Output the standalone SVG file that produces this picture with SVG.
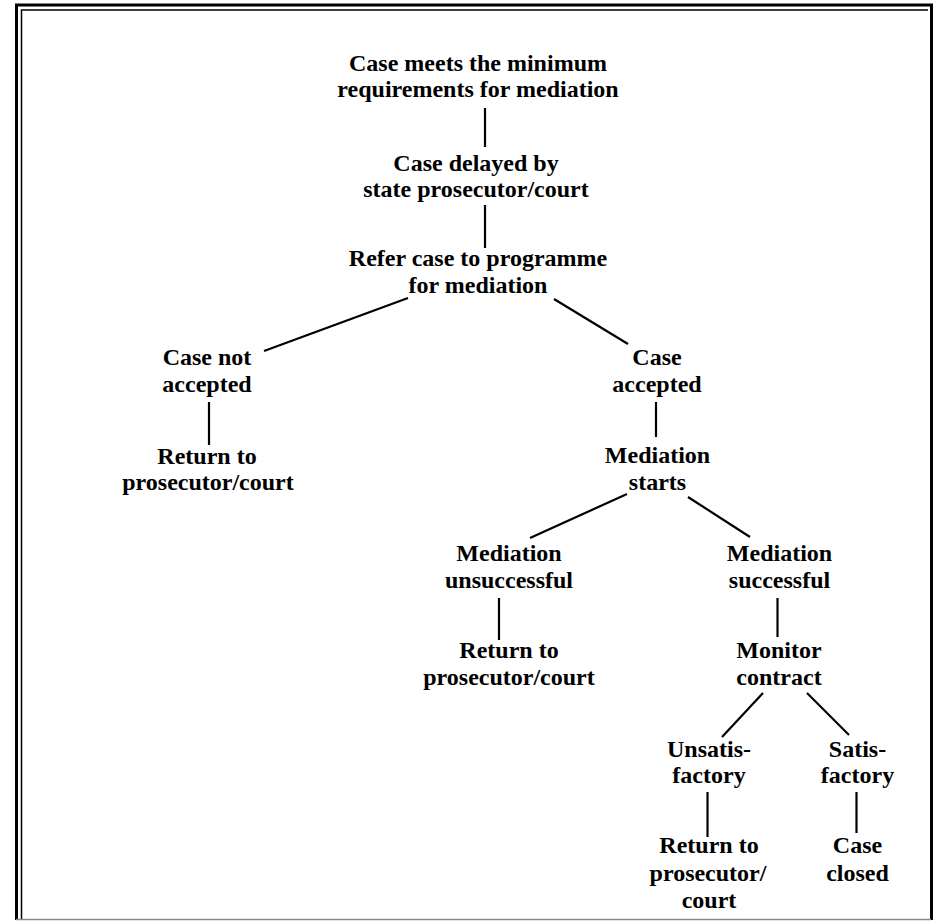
<svg xmlns="http://www.w3.org/2000/svg" width="934" height="921" viewBox="0 0 934 921">
  <style>
    text { font-family: "Liberation Serif", "Times New Roman", serif; font-weight: bold; font-size: 24px; fill: #000; text-anchor: middle; }
    .conn line { stroke: #000; stroke-width: 2.2; stroke-linecap: butt; }
    .frame { fill: none; stroke: #000; }
  </style>
  <rect width="934" height="921" fill="#fff"/>
  <g id="frame">
    <path class="frame" d="M16.5,920 V5 H931.5 V920" stroke-width="3"/>
    <path class="frame" d="M21.5,920 V10 H928" stroke-width="1.5"/>
    <line x1="16" y1="919.5" x2="931" y2="919.5" stroke="#888" stroke-width="1.5"/>
  </g>
  <g id="connectors" class="conn">
    <line x1="485" y1="108" x2="485" y2="147"/>
    <line x1="485" y1="205" x2="485" y2="248"/>
    <line x1="408" y1="298" x2="264" y2="351"/>
    <line x1="554" y1="299" x2="628" y2="344"/>
    <line x1="209" y1="402" x2="209" y2="445"/>
    <line x1="656" y1="402" x2="656" y2="437"/>
    <line x1="627" y1="494" x2="530" y2="538"/>
    <line x1="688" y1="497" x2="750" y2="537"/>
    <line x1="499" y1="598" x2="499" y2="640"/>
    <line x1="777.5" y1="598" x2="777.5" y2="637"/>
    <line x1="763" y1="693" x2="722" y2="737"/>
    <line x1="807" y1="693" x2="849" y2="735"/>
    <line x1="707.5" y1="792" x2="707.5" y2="837"/>
    <line x1="856.5" y1="792" x2="856.5" y2="833"/>
  </g>
  <g id="n-minimum"><text x="478" y="71">Case meets the minimum</text><text x="478" y="97">requirements for mediation</text></g>
  <g id="n-delayed"><text x="476" y="171">Case delayed by</text><text x="476" y="197">state prosecutor/court</text></g>
  <g id="n-refer"><text x="478" y="266">Refer case to programme</text><text x="478" y="293">for mediation</text></g>
  <g id="n-not-accepted"><text x="207" y="365">Case not</text><text x="207" y="392">accepted</text></g>
  <g id="n-return1"><text x="207" y="464">Return to</text><text x="208" y="490">prosecutor/court</text></g>
  <g id="n-accepted"><text x="657" y="365">Case</text><text x="657" y="392">accepted</text></g>
  <g id="n-starts"><text x="657.5" y="463">Mediation</text><text x="657.5" y="490">starts</text></g>
  <g id="n-unsuccessful"><text x="509" y="561">Mediation</text><text x="509" y="588">unsuccessful</text></g>
  <g id="n-successful"><text x="779.5" y="561">Mediation</text><text x="779.5" y="588">successful</text></g>
  <g id="n-return2"><text x="509" y="658">Return to</text><text x="509" y="685">prosecutor/court</text></g>
  <g id="n-monitor"><text x="779" y="658">Monitor</text><text x="779" y="685">contract</text></g>
  <g id="n-unsatisfactory"><text x="709" y="757">Unsatis-</text><text x="709" y="783">factory</text></g>
  <g id="n-satisfactory"><text x="857.5" y="757">Satis-</text><text x="857.5" y="783">factory</text></g>
  <g id="n-return3"><text x="709" y="853">Return to</text><text x="708" y="881">prosecutor/</text><text x="709" y="908">court</text></g>
  <g id="n-closed"><text x="857.5" y="853">Case</text><text x="857.5" y="881">closed</text></g>
</svg>
